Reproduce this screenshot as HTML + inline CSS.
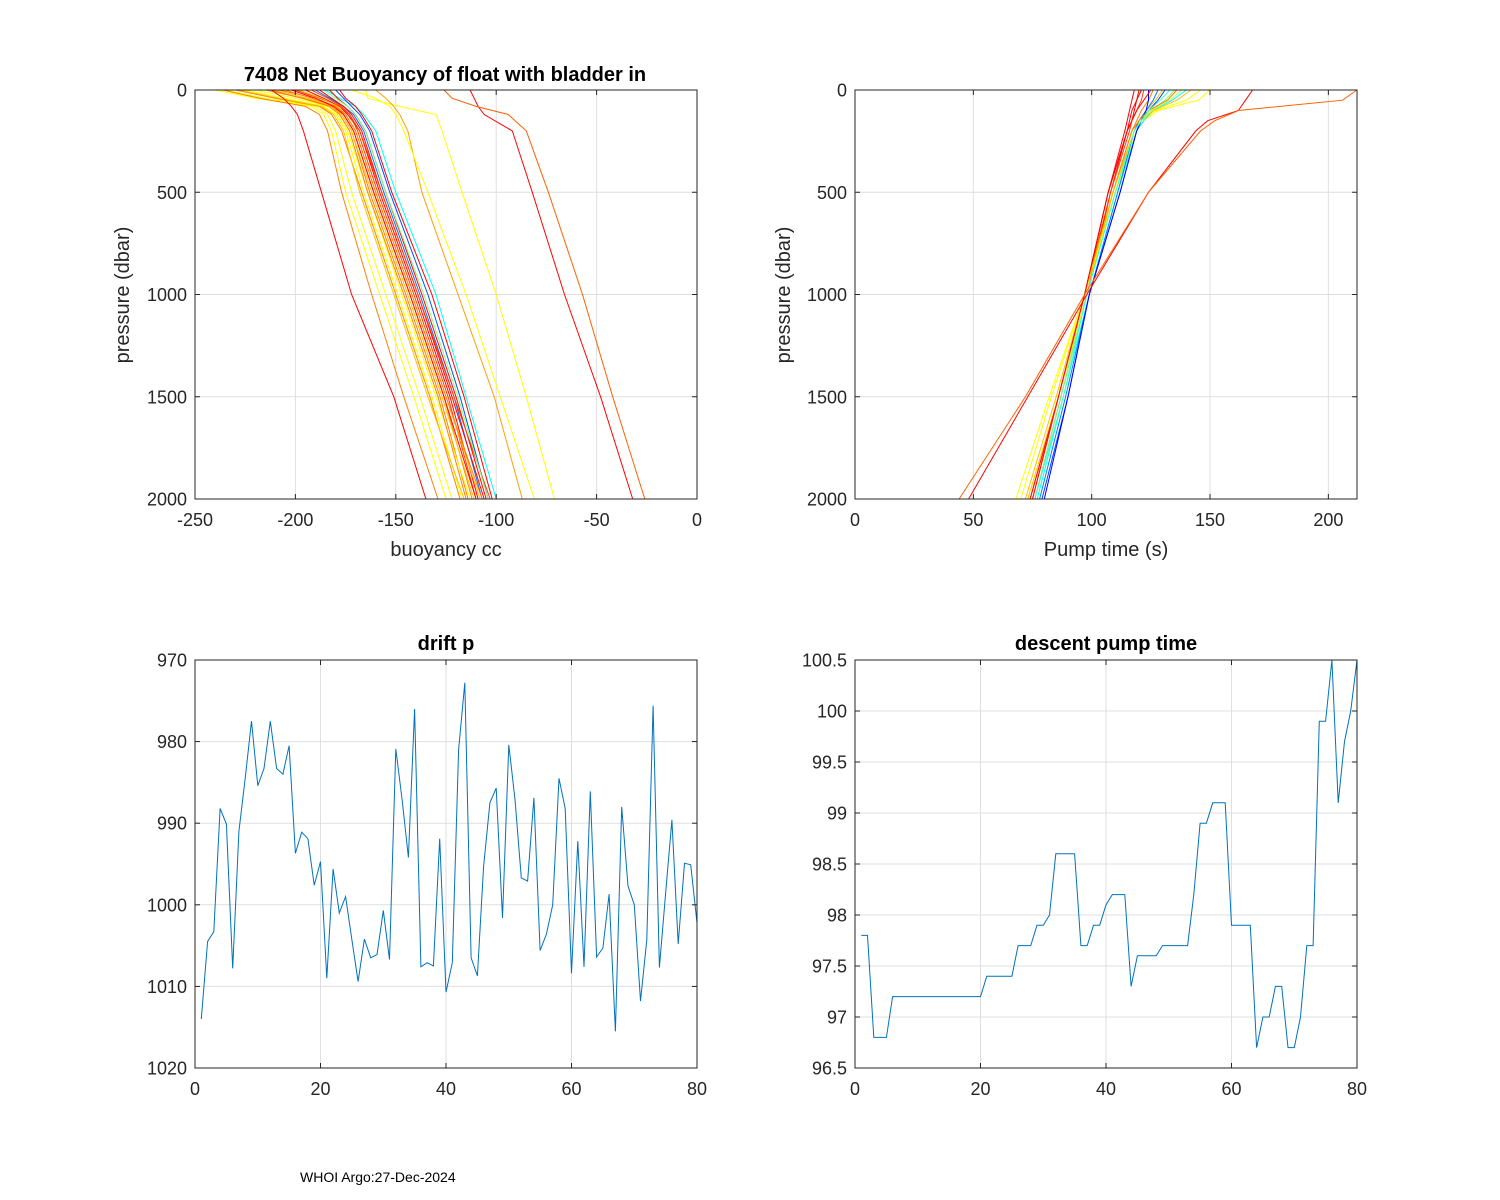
<!DOCTYPE html>
<html><head><meta charset="utf-8"><style>
html,body{margin:0;padding:0;background:#fff;}
svg{display:block;font-family:"Liberation Sans",Arial,sans-serif;}
</style></head><body>
<svg id="fig" width="1500" height="1200" xmlns="http://www.w3.org/2000/svg"></svg>
<script>
// ---------- DATA ----------
const buoyPressures = [0,40,80,120,200,500,1000,1500,2000];
const buoyColors = ['#00ffff','#0050ff','#0070ff','#ff0000','#ff0000','#ff8000','#ff8000','#ffff00','#ffff00','#ff4000','#ffbf00','#ff0000','#ff8000','#ffff00','#ff8000','#ffbf00','#ff0000','#ff4000','#ffff00','#ff8000','#80ff80','#ffbf00','#ff0000','#ff8000','#ff0000','#ff0000','#ff6000','#ffff00','#ffa000','#ffff00'];
const buoyProfiles = [
[-185,-178,-170,-166,-160,-150,-130,-115,-100],
[-180,-176,-172,-168,-163,-153,-134,-118,-104],
[-190,-183,-176,-171,-166,-156,-138,-121,-107],
[-178,-175,-170,-167,-162,-152,-132,-116,-102],
[-195,-186,-178,-174,-168,-158,-140,-123,-109],
[-205,-192,-180,-176,-171,-161,-143,-126,-112],
[-215,-196,-182,-177,-172,-163,-145,-128,-114],
[-225,-205,-186,-180,-175,-166,-149,-132,-117],
[-235,-215,-190,-184,-180,-172,-155,-138,-122],
[-200,-188,-178,-173,-169,-159,-141,-124,-110],
[-210,-194,-181,-177,-172,-162,-144,-127,-111],
[-188,-182,-176,-172,-167,-157,-139,-122,-106],
[-230,-210,-188,-182,-177,-167,-150,-133,-118],
[-240,-220,-192,-186,-182,-175,-158,-141,-125],
[-236,-218,-195,-188,-184,-177,-162,-146,-129],
[-198,-187,-179,-175,-170,-160,-142,-125,-108],
[-183,-179,-174,-170,-165,-155,-137,-120,-105],
[-192,-184,-177,-173,-168,-157,-139,-121,-103],
[-220,-200,-184,-179,-174,-164,-147,-130,-113],
[-208,-190,-180,-175,-170,-160,-142,-125,-107],
[-186,-180,-174,-170,-165,-155,-136,-119,-104],
[-228,-208,-187,-181,-176,-168,-151,-134,-116],
[-202,-190,-181,-176,-171,-161,-143,-126,-110],
[-212,-197,-183,-178,-173,-164,-146,-129,-115],
[-212,-206,-202,-199,-196,-187,-172,-151,-135],
[-113,-111,-109,-106,-92,-82,-66,-48,-32],
[-126,-122,-110,-94,-85,-74,-57,-42,-26],
[-165,-164,-148,-130,-127,-117,-100,-85,-71],
[-160,-155,-151,-148,-144,-137,-119,-101,-87],
[-172,-160,-153,-150,-146,-134,-115,-98,-81]
];
const pumpPressures = [0,50,100,150,200,500,1000,1500,2000];
const pumpColors = ['#ff0000','#ff0000','#ff4000','#ff8000','#ffbf00','#ffff00','#ffff00','#80ff80','#00ffff','#0080ff','#0040ff','#0000ff','#ff0000','#ff8000','#ffbf00','#bfff40','#40ffbf','#ff0000','#ff0000','#ff6000'];
const pumpProfiles = [
[118,117,116,115,114,107,97,86,74],
[120,119,118,117,115,108,98,87,76],
[122,121,119,117,116,108,97,86,75],
[126,124,121,119,117,109,98,86,74],
[130,127,123,120,118,109,98,86,73],
[150,145,128,122,119,110,97,83,70],
[146,140,127,121,118,109,97,82,68],
[135,131,125,121,118,110,98,87,76],
[140,134,126,122,119,111,99,88,77],
[128,126,123,120,118,111,99,89,78],
[131,128,124,121,119,112,99,90,79],
[124,124,123,121,119,112,99,90,80],
[121,119,117,116,115,107,97,86,75],
[136,132,124,120,117,109,97,86,74],
[142,136,126,121,118,109,97,85,72],
[138,133,125,121,118,110,98,86,74],
[133,129,124,121,118,110,98,88,76],
[125,122,119,117,115,107,97,86,74],
[168,165,162,149,144,124,98,73,48],
[212,206,162,152,146,124,97,72,44]
];
const driftP = [1014.0,1004.5,1003.3,988.2,990.1,1007.8,991.0,984.5,977.5,985.4,983.3,977.5,983.3,984.0,980.5,993.7,991.1,991.9,997.6,994.7,1009.0,995.6,1001.0,999.0,1004.3,1009.4,1004.2,1006.5,1006.1,1000.7,1006.7,980.9,987.1,994.2,976.0,1007.6,1007.1,1007.5,991.9,1010.7,1007.1,981.0,972.8,1006.5,1008.7,995.3,987.5,985.7,1001.6,980.4,987.1,996.7,997.1,986.9,1005.6,1003.6,1000.0,984.5,988.2,1008.4,992.2,1007.6,986.1,1006.4,1005.3,998.7,1015.5,988.0,997.7,1000.0,1011.8,1004.3,975.6,1007.7,998.6,989.6,1004.8,994.9,995.1,1002.2];
const pumpTime = [97.8,97.8,96.8,96.8,96.8,97.2,97.2,97.2,97.2,97.2,97.2,97.2,97.2,97.2,97.2,97.2,97.2,97.2,97.2,97.2,97.4,97.4,97.4,97.4,97.4,97.7,97.7,97.7,97.9,97.9,98.0,98.6,98.6,98.6,98.6,97.7,97.7,97.9,97.9,98.1,98.2,98.2,98.2,97.3,97.6,97.6,97.6,97.6,97.7,97.7,97.7,97.7,97.7,98.2,98.9,98.9,99.1,99.1,99.1,97.9,97.9,97.9,97.9,96.7,97.0,97.0,97.3,97.3,96.7,96.7,97.0,97.7,97.7,99.9,99.9,100.5,99.1,99.7,100.0,100.5];
const buoyXTicks = [-250,-200,-150,-100,-50,0];
const presTicks = [0,500,1000,1500,2000];
const pumpXTicks = [0,50,100,150,200];
const driftYTicks = [970,980,990,1000,1010,1020];
const cycleTicks = [0,20,40,60,80];
const pumpYTicks = [96.5,97,97.5,98,98.5,99,99.5,100,100.5];

// ---------- DRAWING ----------
const NS='http://www.w3.org/2000/svg';
const svg=document.getElementById('fig');
function el(tag,attrs,parent){const e=document.createElementNS(NS,tag);for(const k in attrs)e.setAttribute(k,attrs[k]);(parent||svg).appendChild(e);return e;}
function scale(d0,d1,r0,r1){return v=>r0+(v-d0)/(d1-d0)*(r1-r0);}

function axes(name,L,T,R,B,xs,ys,xt,yt,xfmt,yfmt){
  const g=el('g',{});
  
  
  const grid=el('g',{},g);
  
  
  xt.forEach(v=>{const x=xs(v);el('line',{x1:x,x2:x,y1:T,y2:B,stroke:'#dfdfdf','stroke-width':1},grid);});
  yt.forEach(v=>{const y=ys(v);el('line',{x1:L,x2:R,y1:y,y2:y,stroke:'#dfdfdf','stroke-width':1},grid);});
  return g;
}
function frame(name,g,L,T,R,B,xs,ys,xt,yt,xfmt,yfmt){
  const f=el('g',{},g);
  
  
  el('rect',{x:L,y:T,width:R-L,height:B-T,fill:'none',stroke:'#262626','stroke-width':1},f);
  const xa=el('g',{},f);
  
  
  xt.forEach(v=>{const x=xs(v);
    el('line',{x1:x,x2:x,y1:B,y2:B-5,stroke:'#262626'},xa);
    el('line',{x1:x,x2:x,y1:T,y2:T+5,stroke:'#262626'},xa);
    const t=el('text',{x:x,y:B+27,'text-anchor':'middle','font-size':18,fill:'#262626'},xa);
    t.textContent=xfmt(v);
    
    
  });
  const ya=el('g',{},f);
  
  
  yt.forEach(v=>{const y=ys(v);
    el('line',{x1:L,x2:L+5,y1:y,y2:y,stroke:'#262626'},ya);
    el('line',{x1:R,x2:R-5,y1:y,y2:y,stroke:'#262626'},ya);
    const t=el('text',{x:L-8,y:y+6.5,'text-anchor':'end','font-size':18,fill:'#262626'},ya);
    t.textContent=yfmt(v);
    
    
  });
}
function text(name,x,y,s,opts){
  const t=el('text',Object.assign({x:x,y:y,'text-anchor':'middle','font-size':20,fill:'#000'},opts||{}));
  t.textContent=s;
  
  
  return t;
}
const id=v=>String(v);

// Panel 1: buoyancy
(function(){
  const L=195,T=90,R=697,B=499;
  const xs=scale(-250,0,L,R), ys=scale(0,2000,T,B);
  const g=axes('buoyancy-panel',L,T,R,B,xs,ys,buoyXTicks,presTicks);
  buoyProfiles.forEach((prof,i)=>{
    const pts=prof.map((v,j)=>xs(v).toFixed(1)+','+ys(buoyPressures[j]).toFixed(1)).join(' ');
    const pl=el('polyline',{points:pts,fill:'none',stroke:buoyColors[i],'stroke-width':1},g);
    
    
  });
  frame('buoyancy-panel',g,L,T,R,B,xs,ys,buoyXTicks,presTicks,id,id);
  text('buoyancy-title',445,81,'7408 Net Buoyancy of float with bladder in',{'font-weight':'bold'});
  text('buoyancy-x-axis-title',446,556,'buoyancy cc',{fill:'#262626'});
  text('buoyancy-y-axis-title',0,0,'pressure (dbar)',{fill:'#262626',transform:'translate(129,295) rotate(-90)'});
})();

// Panel 2: pump time
(function(){
  const L=855,T=90,R=1357,B=499;
  const xs=scale(0,212.1,L,R), ys=scale(0,2000,T,B);
  const g=axes('pump-panel',L,T,R,B,xs,ys,pumpXTicks,presTicks);
  pumpProfiles.forEach((prof,i)=>{
    const pts=prof.map((v,j)=>xs(v).toFixed(1)+','+ys(pumpPressures[j]).toFixed(1)).join(' ');
    const pl=el('polyline',{points:pts,fill:'none',stroke:pumpColors[i],'stroke-width':1},g);
    
    
  });
  frame('pump-panel',g,L,T,R,B,xs,ys,pumpXTicks,presTicks,id,id);
  text('pump-x-axis-title',1106,556,'Pump time (s)',{fill:'#262626'});
  text('pump-y-axis-title',0,0,'pressure (dbar)',{fill:'#262626',transform:'translate(790,295) rotate(-90)'});
})();

// Panel 3: drift p
(function(){
  const L=195,T=660,R=697,B=1068;
  const xs=scale(0,80,L,R), ys=scale(970,1020,T,B);
  const g=axes('drift-panel',L,T,R,B,xs,ys,cycleTicks,driftYTicks);
  const pts=driftP.map((v,i)=>xs(i+1).toFixed(1)+','+ys(v).toFixed(1)).join(' ');
  const pl=el('polyline',{points:pts,fill:'none',stroke:'#0072bd','stroke-width':1},g);
  
  
  frame('drift-panel',g,L,T,R,B,xs,ys,cycleTicks,driftYTicks,id,id);
  text('drift-title',446,650,'drift p',{'font-weight':'bold'});
})();

// Panel 4: descent pump time
(function(){
  const L=855,T=660,R=1357,B=1068;
  const xs=scale(0,80,L,R), ys=scale(100.5,96.5,T,B);
  const g=axes('descent-panel',L,T,R,B,xs,ys,cycleTicks,pumpYTicks);
  const pts=pumpTime.map((v,i)=>xs(i+1).toFixed(1)+','+ys(v).toFixed(1)).join(' ');
  const pl=el('polyline',{points:pts,fill:'none',stroke:'#0072bd','stroke-width':1},g);
  
  
  frame('descent-panel',g,L,T,R,B,xs,ys,cycleTicks,pumpYTicks,id,id);
  text('descent-title',1106,650,'descent pump time',{'font-weight':'bold'});
})();

text('footer-credit',300,1182,'WHOI Argo:27-Dec-2024',{'text-anchor':'start','font-size':14});
</script>
</body></html>
